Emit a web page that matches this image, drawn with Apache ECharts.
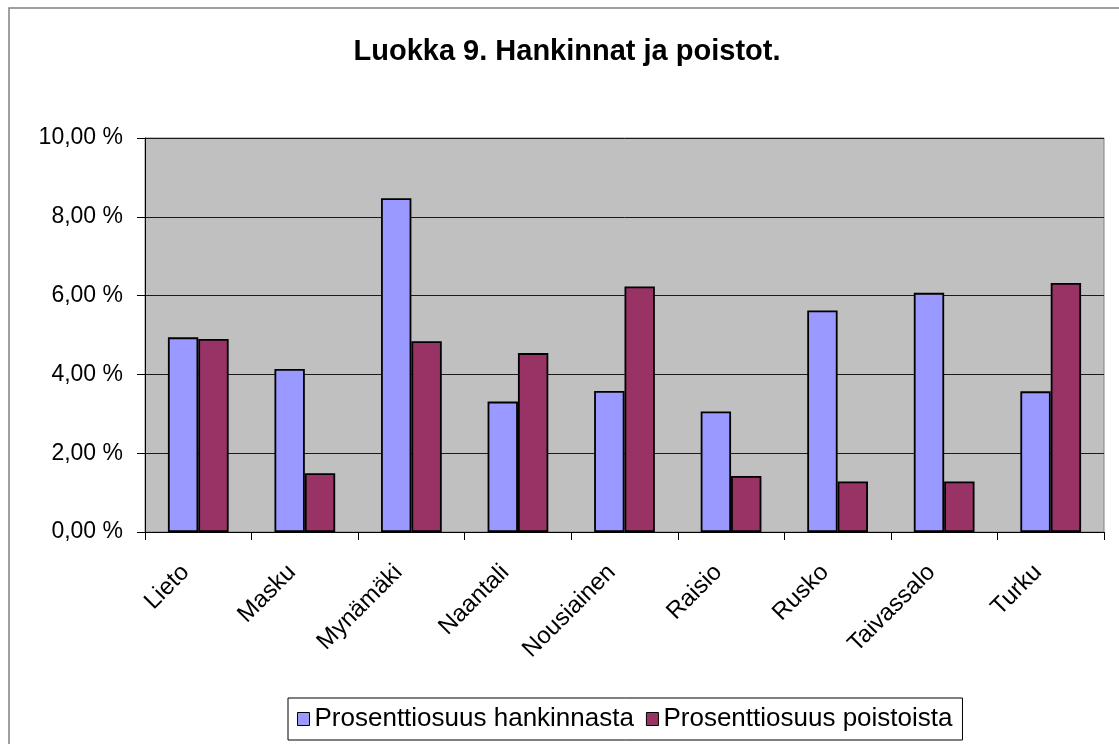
<!DOCTYPE html>
<html>
<head>
<meta charset="utf-8">
<script src="https://cdn.jsdelivr.net/npm/echarts@6/dist/echarts.min.js"></script>
<style>
html,body{margin:0;padding:0;background:#fff;}
#c{width:1119px;height:744px;}
</style>
</head>
<body>
<div id="c"></div>
<script>
const titleText = 'Luokka 9. Hankinnat ja poistot.';
const categories = ['Lieto','Masku','Mynämäki','Naantali','Nousiainen','Raisio','Rusko','Taivassalo','Turku'];
const seriesNames = ['Prosenttiosuus hankinnasta','Prosenttiosuus poistoista'];
const hankinnasta = [4.94, 4.14, 8.47, 3.31, 3.58, 3.06, 5.62, 6.07, 3.57];
const poistoista = [4.90, 1.49, 4.84, 4.54, 6.23, 1.42, 1.28, 1.28, 6.32];
const yTicks = [0, 2, 4, 6, 8, 10];

const FONT = '"Liberation Sans", Arial, sans-serif';
const chart = echarts.init(document.getElementById('c'), null, {renderer:'canvas'});
chart.setOption({
  animation:false,
  backgroundColor:'#ffffff',
  graphic:[
    {type:'rect', z:-10, shape:{x:9,y:8,width:1200,height:800}, style:{fill:'#fff', stroke:'#808080', lineWidth:1.5}},
    {type:'text', x:567, y:52, style:{text:titleText, font:'bold 29px ' + FONT, fill:'#000', textAlign:'center', textVerticalAlign:'middle'}}
  ],
  grid:{left:145, right:15, top:138, bottom:212, show:true, backgroundColor:'#C0C0C0', borderColor:'#808080', borderWidth:1},
  legend:{
    left:288, top:698, orient:'horizontal',
    padding:[8,10,8,9], itemGap:12, itemWidth:12, itemHeight:13,
    borderColor:'#000', borderWidth:1, backgroundColor:'#fff',
    icon:'rect',
    textStyle:{fontFamily:FONT, fontSize:26, color:'#000'},
    data:seriesNames.map(n=>({name:n, itemStyle:{borderColor:'#000', borderWidth:1}}))
  },
  xAxis:{
    type:'category', data:categories,
    axisLine:{lineStyle:{color:'#000', width:1}},
    axisTick:{show:true, length:8, lineStyle:{color:'#000'}},
    axisLabel:{rotate:45, interval:0, margin:24, padding:[0,18,0,0], fontFamily:FONT, fontSize:24, color:'#000'}
  },
  yAxis:{
    type:'value', min:0, max:10, interval:2,
    axisLine:{show:true, lineStyle:{color:'#000', width:1}},
    axisTick:{show:true, length:8, lineStyle:{color:'#000'}},
    splitLine:{show:true, lineStyle:{color:'#1a1a1a', width:1}},
    axisLabel:{margin:22, fontFamily:FONT, fontSize:23, color:'#000',
      formatter:v=> yTicks.includes(v) ? v.toFixed(2).replace('.', ',') + ' %' : ''}
  },
  series:[
    {name:seriesNames[0], type:'bar', data:hankinnasta, barGap:'0%', barCategoryGap:'43%',
     itemStyle:{color:'#9999FF', borderColor:'#000', borderWidth:1.8}},
    {name:seriesNames[1], type:'bar', data:poistoista, barGap:'0%', barCategoryGap:'43%',
     itemStyle:{color:'#993366', borderColor:'#000', borderWidth:1.8}}
  ]
});
</script>
</body>
</html>
